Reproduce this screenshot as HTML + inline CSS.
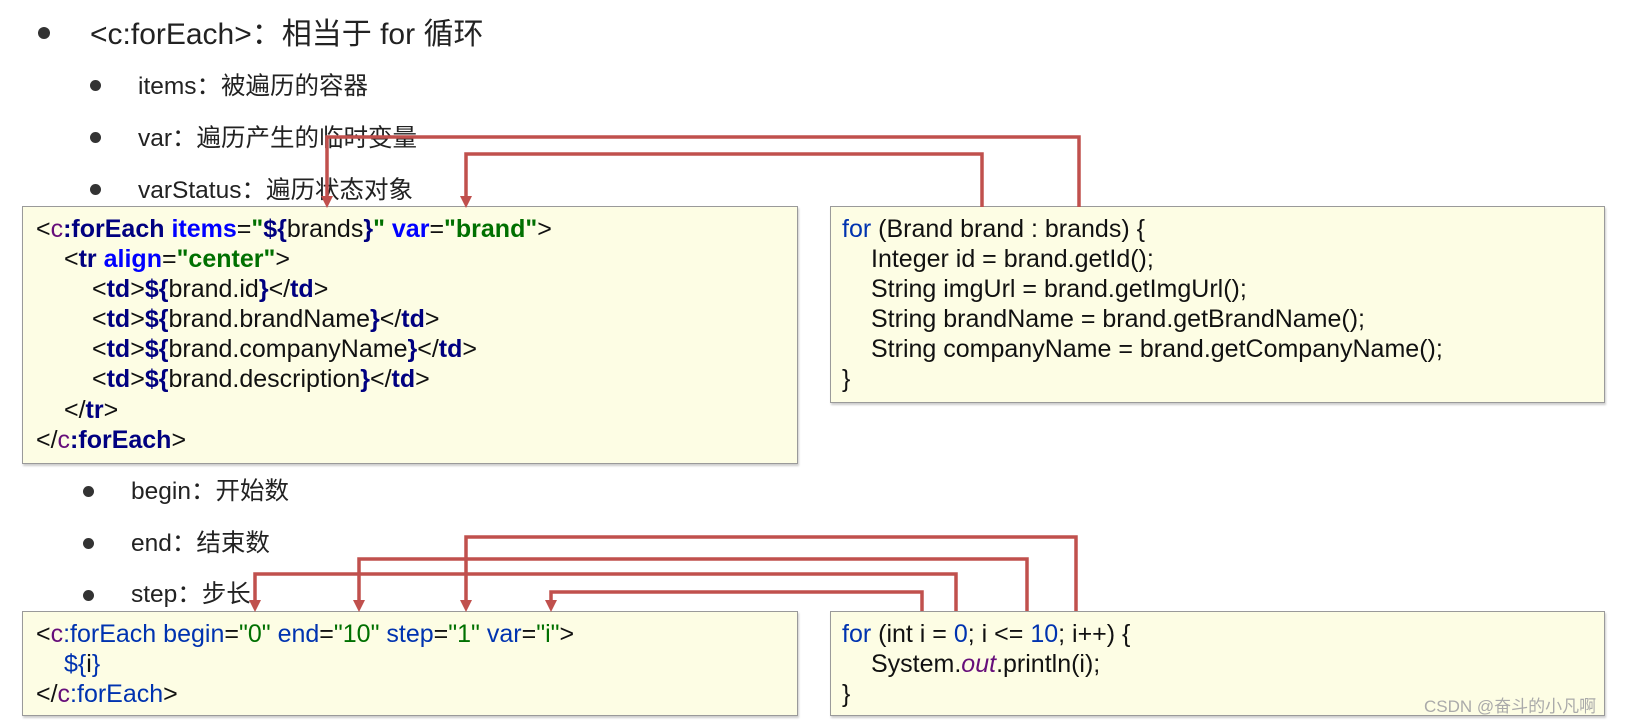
<!DOCTYPE html>
<html><head><meta charset="utf-8">
<style>
body{margin:0;width:1630px;height:725px;background:#fff;position:relative;overflow:hidden;font-family:"Liberation Sans","Noto Sans CJK SC",sans-serif;color:#222}
.a{position:absolute;white-space:nowrap}
.dot{position:absolute;width:12px;height:12px;border-radius:50%;background:#333}
.box{position:absolute;background:#fdfde4;border:1.5px solid #9a9a9a;box-shadow:1px 2px 2px rgba(0,0,0,.2)}
.c{position:absolute;white-space:nowrap;font-size:25px;color:#111}
.p{color:#660e7a}.n{color:#000080;font-weight:bold}.b{color:#0000ff;font-weight:bold}.g{color:#007000;font-weight:bold}
.bl{color:#0033b0}.gr{color:#007000}
</style></head><body>
<div class="dot" style="left:38px;top:27px"></div>
<div class="a" style="left:90px;top:9px;font-size:30px">&lt;c:forEach&gt;：相当于 for 循环</div>
<div class="dot" style="left:90px;top:80px;width:11px;height:11px"></div>
<div class="a" style="left:138px;top:67px;font-size:24.5px">items：被遍历的容器</div>
<div class="dot" style="left:90px;top:132px;width:11px;height:11px"></div>
<div class="a" style="left:138px;top:119px;font-size:24.5px">var：遍历产生的临时变量</div>
<div class="dot" style="left:90px;top:184px;width:11px;height:11px"></div>
<div class="a" style="left:138px;top:171px;font-size:24.5px">varStatus：遍历状态对象</div>

<div class="box" style="left:22px;top:206px;width:774px;height:256px"></div>
<div class="c" style="left:36px;top:215px">&lt;<span class="p">c</span><span class="n">:forEach</span> <span class="b">items</span>=<span class="g">"</span><span class="n">${</span>brands<span class="n">}</span><span class="g">"</span> <span class="b">var</span>=<span class="g">"brand"</span>&gt;</div>
<div class="c" style="left:64px;top:245px">&lt;<span class="n">tr</span> <span class="b">align</span>=<span class="g">"center"</span>&gt;</div>
<div class="c" style="left:92px;top:275px">&lt;<span class="n">td</span>&gt;<span class="n">${</span>brand.id<span class="n">}</span>&lt;/<span class="n">td</span>&gt;</div>
<div class="c" style="left:92px;top:305px">&lt;<span class="n">td</span>&gt;<span class="n">${</span>brand.brandName<span class="n">}</span>&lt;/<span class="n">td</span>&gt;</div>
<div class="c" style="left:92px;top:335px">&lt;<span class="n">td</span>&gt;<span class="n">${</span>brand.companyName<span class="n">}</span>&lt;/<span class="n">td</span>&gt;</div>
<div class="c" style="left:92px;top:365px">&lt;<span class="n">td</span>&gt;<span class="n">${</span>brand.description<span class="n">}</span>&lt;/<span class="n">td</span>&gt;</div>
<div class="c" style="left:64px;top:396px">&lt;/<span class="n">tr</span>&gt;</div>
<div class="c" style="left:36px;top:426px">&lt;/<span class="p">c</span><span class="n">:forEach</span>&gt;</div>

<div class="box" style="left:830px;top:206px;width:773px;height:195px"></div>
<div class="c" style="left:842px;top:215px"><span class="bl">for</span> (Brand brand : brands) {</div>
<div class="c" style="left:871px;top:245px">Integer id = brand.getId();</div>
<div class="c" style="left:871px;top:275px">String imgUrl = brand.getImgUrl();</div>
<div class="c" style="left:871px;top:305px">String brandName = brand.getBrandName();</div>
<div class="c" style="left:871px;top:335px">String companyName = brand.getCompanyName();</div>
<div class="c" style="left:842px;top:365px">}</div>

<div class="dot" style="left:83px;top:486px;width:11px;height:11px"></div>
<div class="a" style="left:131px;top:472px;font-size:24.5px">begin：开始数</div>
<div class="dot" style="left:83px;top:538px;width:11px;height:11px"></div>
<div class="a" style="left:131px;top:524px;font-size:24.5px">end：结束数</div>
<div class="dot" style="left:83px;top:590px;width:11px;height:11px"></div>
<div class="a" style="left:131px;top:575px;font-size:24.5px">step：步长</div>

<div class="box" style="left:22px;top:611px;width:774px;height:103px"></div>
<div class="c" style="left:36px;top:620px">&lt;<span class="p">c</span><span class="bl">:forEach</span> <span class="bl">begin</span>=<span class="gr">"0"</span> <span class="bl">end</span>=<span class="gr">"10"</span> <span class="bl">step</span>=<span class="gr">"1"</span> <span class="bl">var</span>=<span class="gr">"i"</span>&gt;</div>
<div class="c" style="left:64px;top:650px"><span class="bl">${</span>i<span class="bl">}</span></div>
<div class="c" style="left:36px;top:680px">&lt;/<span class="p">c</span><span class="bl">:forEach</span>&gt;</div>

<div class="box" style="left:830px;top:611px;width:773px;height:103px"></div>
<div class="c" style="left:842px;top:620px"><span class="bl">for</span> (int i = <span class="bl">0</span>; i &lt;= <span class="bl">10</span>; i++) {</div>
<div class="c" style="left:871px;top:650px">System.<i class="p">out</i>.println(i);</div>
<div class="c" style="left:842px;top:680px">}</div>

<div class="a" style="left:1424px;top:692px;font-size:17px;color:#aaa">CSDN @奋斗的小凡啊</div>

<svg width="1630" height="725" style="position:absolute;left:0;top:0" fill="none">
<g stroke="#c0504d" stroke-width="3.5">
<path d="M1079,207 V137 H327 V204"/>
<path d="M982,207 V154 H466 V204"/>
<path d="M1076,611 V537 H466 V608"/>
<path d="M1027,611 V559 H359 V608"/>
<path d="M956,611 V574 H255 V608"/>
<path d="M922,611 V592 H551 V608"/>
</g>
<g fill="#c0504d">
<path d="M321,196 L333,196 L327,208 Z"/>
<path d="M460,196 L472,196 L466,208 Z"/>
<path d="M460,600 L472,600 L466,612 Z"/>
<path d="M353,600 L365,600 L359,612 Z"/>
<path d="M249,600 L261,600 L255,612 Z"/>
<path d="M545,600 L557,600 L551,612 Z"/>
</g>
</svg>
</body></html>
